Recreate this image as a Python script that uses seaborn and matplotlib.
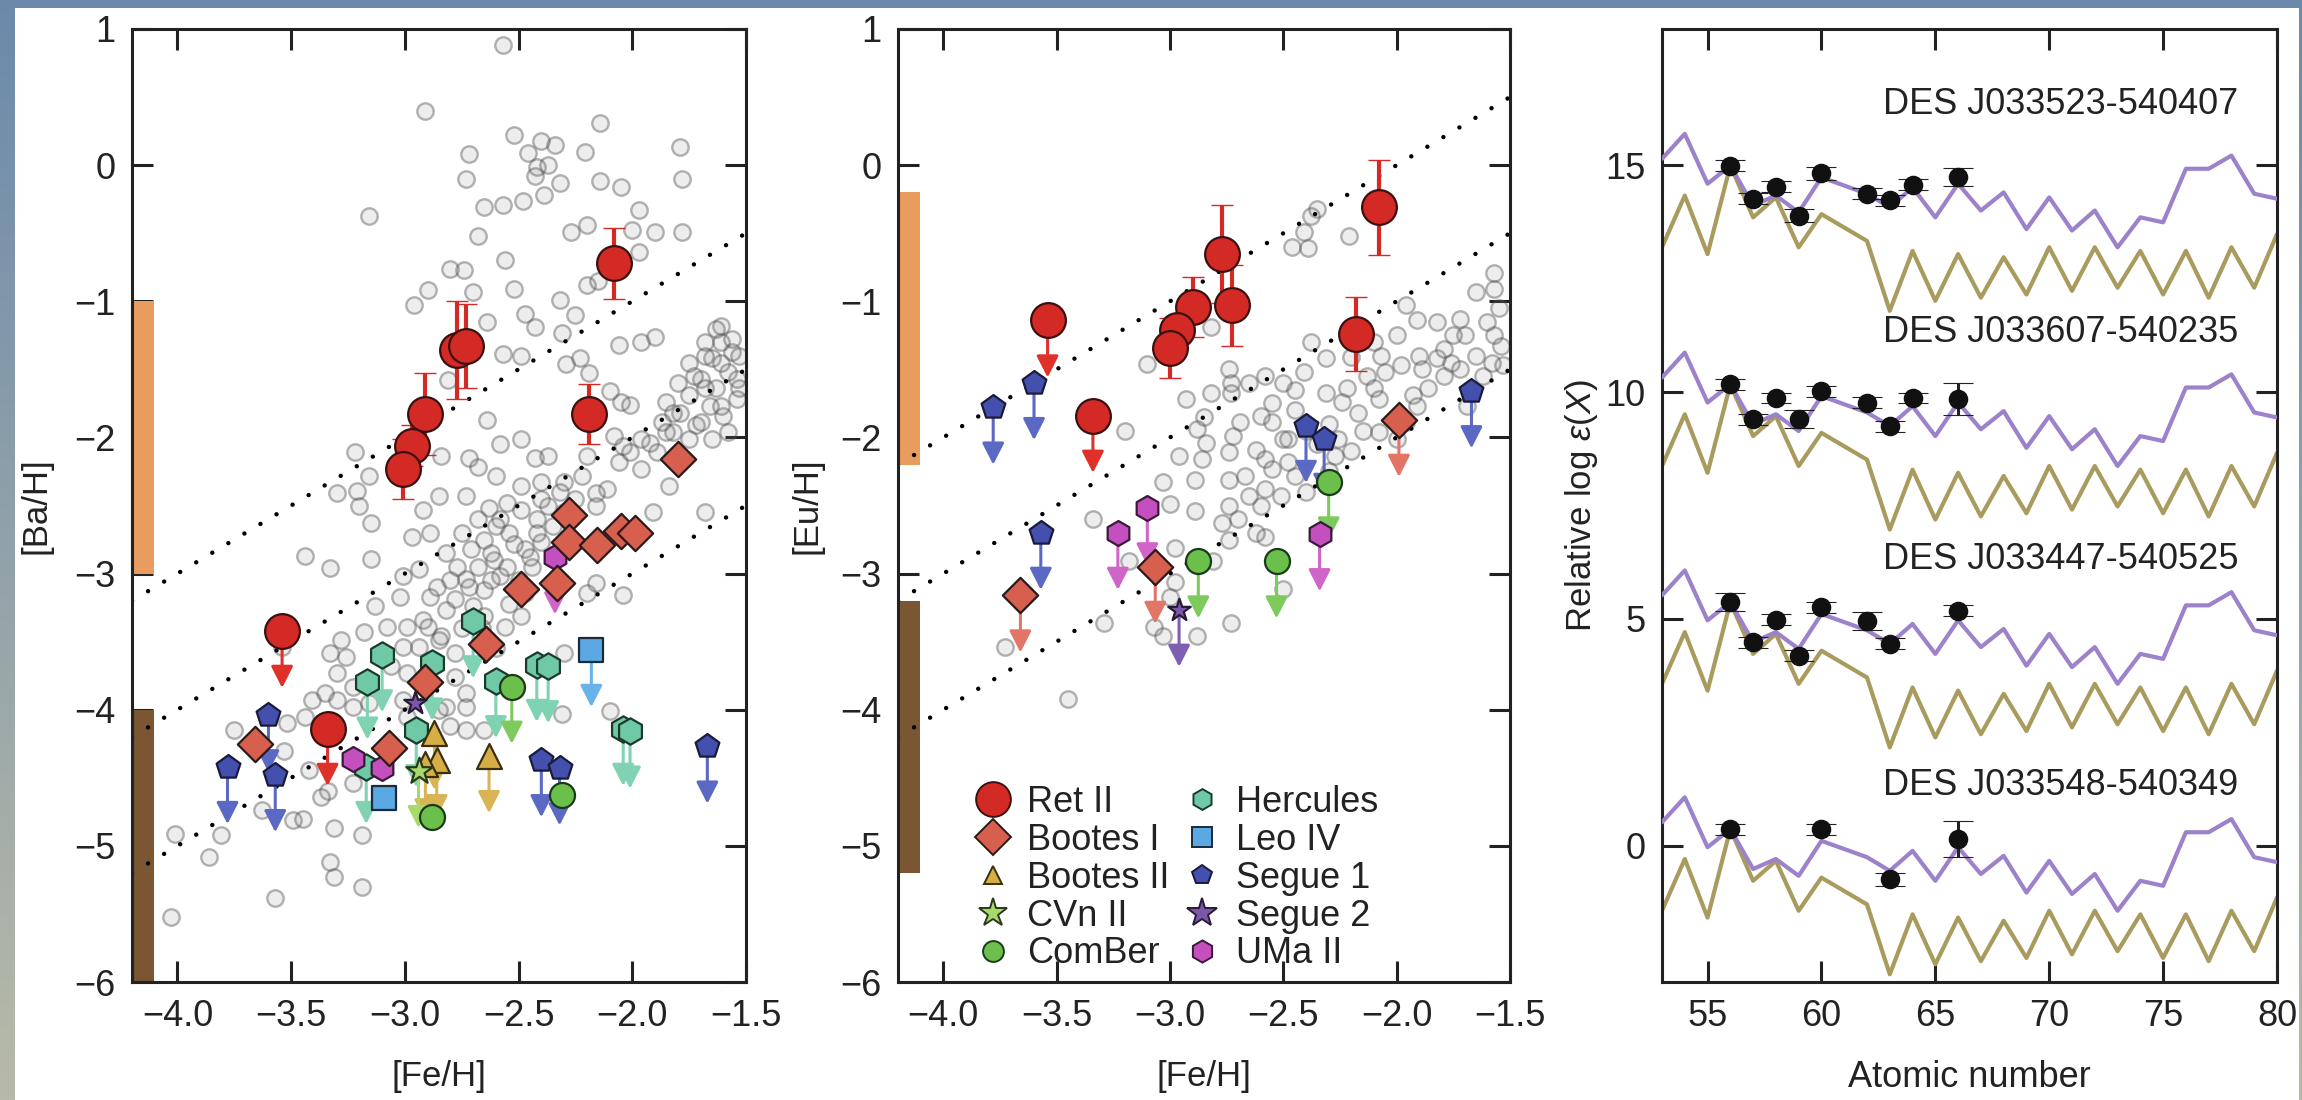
import numpy as np
import pandas as pd
import matplotlib
matplotlib.use("Agg")
import matplotlib.pyplot as plt
import seaborn as sns
from matplotlib.lines import Line2D
from matplotlib.ticker import FuncFormatter

# ======================= DATA =======================
# ---- Panel 1 : Milky Way halo stars [Ba/H] vs [Fe/H] ----
ba_halo_fe = [-2.57, -2.91, -3.16, -2.52, -2.40, -2.34, -2.14, -2.21, -1.79, -2.72, -2.46, -2.42, -2.37, -2.43,
              -2.73, -2.32, -2.14, -2.05, -1.78, -2.39, -2.48, -2.57, -2.65, -1.97, -2.68, -2.27, -2.20, -2.00,
              -1.90, -1.78, -1.97, -2.56, -2.80, -2.74, -2.20, -2.15, -2.90, -2.70, -2.52, -2.96, -2.32, -2.47,
              -2.25, -2.64, -2.43, -2.31, -2.06, -1.96, -1.90, -2.57, -2.49, -2.29, -2.23, -2.19, -2.81, -2.64,
              -2.58, -2.49, -2.43, -2.37, -2.10, -2.05, -2.01, -2.20, -2.72, -2.68, -2.60, -2.84, -3.22, -3.30,
              -3.21, -3.16, -2.85, -2.73, -2.49, -2.40, -2.11, -1.96, -1.84,
              -1.61, -1.68, -1.56, -1.65, -1.58, -1.70, -1.63, -1.54, -1.75, -1.66, -1.79, -1.60, -1.72, -1.82,
              -1.65, -1.87, -1.92, -1.54, -1.53, -1.61, -1.75, -1.80, -1.85, -2.04, -2.08, -2.30, -2.22, -2.16,
              -2.06, -2.01, -1.96, -1.89, -1.85, -1.75, -1.70, -1.82, -1.58, -1.61, -1.53, -1.68, -1.73, -1.61,
              -1.68, -1.56, -1.63,
              -3.20, -3.15, -2.92, -2.89, -2.97, -3.44, -3.33, -3.15, -3.01, -2.94, -2.82, -2.77, -2.71, -2.65,
              -2.58, -2.54, -2.49, -2.42, -2.37, -2.16, -1.91, -1.68, -2.68, -2.61, -2.47, -2.40, -2.73, -2.65,
              -2.58, -2.78, -2.70, -2.82, -2.89, -3.02, -3.13, -2.92, -2.99, -3.08, -3.18, -3.28, -3.33, -3.26,
              -3.30, -3.23, -3.35, -3.41, -3.30, -3.01, -3.06, -2.99, -2.94, -2.84, -2.78, -2.78, -2.73, -2.73,
              -2.82, -3.01, -2.99, -2.80, -2.73, -2.90, -2.85, -2.54, -2.49, -2.56, -2.65, -2.47, -2.44, -2.20,
              -2.04, -2.16, -2.30, -2.31, -2.10, -2.85, -3.16, -3.23, -3.44, -3.52, -3.75, -3.53, -3.42, -3.34,
              -3.23, -3.37, -3.49, -3.45, -3.31, -3.19, -3.63, -3.81, -4.01, -3.86, -3.33, -3.31, -3.19, -3.57,
              -4.03, -3.54, -2.65,
              -2.75, -2.62, -2.55, -2.45, -2.52, -2.60, -2.68, -2.72, -2.62, -2.50, -2.42, -2.35, -2.30, -2.25,
              -2.32, -2.40, -2.55, -2.63, -2.80, -2.86, -2.66, -2.60, -2.75]
ba_halo_val = [0.88, 0.40, -0.37, 0.22, 0.18, 0.15, 0.31, 0.10, 0.13, 0.08, 0.09, -0.01, 0.00, -0.08,
               -0.10, -0.13, -0.12, -0.16, -0.10, -0.22, -0.26, -0.29, -0.31, -0.33, -0.52, -0.49, -0.44, -0.48,
               -0.49, -0.49, -0.64, -0.70, -0.76, -0.77, -0.88, -0.85, -0.92, -0.93, -0.91, -1.03, -0.99, -1.09,
               -1.10, -1.15, -1.19, -1.23, -1.32, -1.30, -1.26, -1.39, -1.40, -1.46, -1.42, -1.53, -1.58, -1.87,
               -2.05, -2.01, -2.15, -2.14, -1.66, -1.74, -1.76, -2.14, -2.15, -2.22, -2.28, -2.14, -2.11, -2.41,
               -2.39, -2.28, -2.43, -2.43, -2.36, -2.33, -2.38, -2.23, -2.36,
               -1.18, -1.30, -1.37, -1.42, -1.52, -1.57, -1.64, -1.72, -1.69, -1.77, -1.82, -1.84, -1.91, -1.96,
               -2.01, -1.89, -2.04, -1.57, -1.40, -1.30, -1.45, -1.60, -1.74, -2.06, -1.99, -2.33, -2.28, -2.41,
               -2.18, -2.11, -2.01, -2.11, -1.96, -2.01, -1.89, -1.82, -1.96, -1.77, -1.64, -1.64, -1.55, -1.45,
               -1.40, -1.28, -1.20,
               -2.50, -2.63, -2.53, -2.70, -2.73, -2.87, -2.96, -2.89, -3.02, -2.97, -2.85, -2.95, -2.82, -2.75,
               -2.60, -2.70, -2.53, -2.60, -2.50, -2.50, -2.55, -2.55, -2.95, -2.90, -2.82, -2.77, -3.04, -3.12,
               -3.02, -3.19, -3.24, -3.27, -3.17, -3.17, -3.24, -3.34, -3.39, -3.39, -3.43, -3.49, -3.58, -3.61,
               -3.73, -3.83, -3.88, -3.93, -3.93, -3.54, -3.68, -3.73, -3.54, -3.46, -3.58, -3.76, -3.88, -3.98,
               -3.98, -3.93, -4.05, -4.12, -4.15, -3.39, -3.49, -3.22, -3.31, -3.39, -3.31, -3.14, -2.95, -3.14,
               -3.16, -3.07, -3.58, -4.03, -4.01, -4.00, -3.95, -3.98, -4.05, -4.10, -4.15, -4.30, -4.44, -4.60,
               -4.54, -4.64, -4.81, -4.80, -4.87, -4.92, -4.74, -4.92, -4.91, -5.08, -5.12, -5.23, -5.30, -5.38,
               -5.52, -3.54, -4.15,
               -2.70, -2.85, -2.95, -2.88, -2.78, -2.65, -2.60, -3.10, -3.05, -3.05, -2.70, -2.65, -2.55, -2.45,
               -2.40, -2.45, -2.48, -2.52, -3.05, -3.10, -3.40, -3.55, -3.40]

# ---- Panel 2 : Milky Way halo stars [Eu/H] vs [Fe/H] ----
eu_halo_fe = [-2.35, -2.38, -2.21, -2.41, -2.46, -2.39, -2.82, -3.10, -1.57, -1.65, -1.57, -1.72, -1.82, -1.96,
              -1.91, -1.57, -1.54, -1.70, -1.65, -1.76, -1.82, -1.90, -1.98, -2.05, -2.07, -2.13, -2.20, -2.31,
              -2.38, -2.41, -2.50, -2.58, -2.65, -2.74, -2.73, -2.73, -2.93, -2.82, -2.60, -2.69, -2.72, -2.88,
              -2.84, -2.50, -2.55, -2.31, -2.24, -2.17, -2.22, -2.10, -2.08, -1.93, -1.86, -1.89, -1.79, -1.72,
              -1.62, -1.58, -1.79, -1.69, -1.53, -3.20, -2.96, -2.86, -3.03, -2.89, -2.74, -2.74, -2.67, -2.62,
              -2.58, -2.55, -2.48, -2.45, -2.65, -2.58, -2.51, -2.27, -2.26, -2.48, -2.08, -1.96, -2.00, -1.91,
              -3.34, -3.00, -2.89, -2.74, -2.70, -2.77, -2.58, -2.62, -3.18, -2.98, -2.81, -2.74, -2.98, -3.00,
              -3.29, -3.07, -3.03, -2.88, -2.73, -2.50, -3.73, -3.45,
              -2.45, -2.40, -2.35, -2.30, -2.15, -2.20, -1.55, -1.60, -1.75, -2.10, -2.00, -2.55, -2.45, -2.85,
              -2.60, -2.40, -2.30]
eu_halo_val = [-0.32, -0.37, -0.52, -0.49, -0.60, -0.61, -1.19, -1.46, -0.79, -0.93, -0.91, -1.13, -1.15, -1.03,
               -1.14, -1.25, -1.33, -1.25, -1.40, -1.45, -1.42, -1.40, -1.47, -1.52, -1.40, -1.55, -1.41, -1.42,
               -1.30, -1.52, -1.60, -1.55, -1.60, -1.50, -1.60, -1.67, -1.72, -1.67, -1.84, -1.89, -1.99, -1.94,
               -2.04, -2.01, -1.89, -1.67, -1.74, -1.82, -1.64, -1.64, -1.72, -1.69, -1.64, -1.50, -1.55, -1.50,
               -1.55, -1.45, -1.35, -1.77, -1.47, -1.95, -2.14, -2.16, -2.33, -2.31, -2.11, -2.31, -2.28, -2.09,
               -2.16, -2.23, -2.18, -2.28, -2.43, -2.38, -2.43, -2.14, -2.01, -2.01, -1.96, -1.89, -2.01, -1.77,
               -2.60, -2.49, -2.54, -2.50, -2.60, -2.63, -2.73, -2.70, -2.91, -2.81, -2.91, -2.75, -3.06, -3.17,
               -3.36, -3.39, -3.46, -3.46, -3.36, -3.11, -3.54, -3.92,
               -1.80, -1.95, -2.05, -1.90, -1.95, -2.10, -1.05, -1.15, -1.25, -1.30, -1.25, -1.75, -1.65, -1.85,
               -2.50, -2.40, -2.25]

# ---- Ultra-faint dwarf stars, panel 1 ([Ba/H]) ; lim = 1 means upper limit ----
retii_ba_fe = [-2.08, -2.77, -2.73, -2.91, -2.97, -3.01, -2.19, -3.54, -3.34]
retii_ba = [-0.72, -1.36, -1.33, -1.83, -2.06, -2.23, -1.83, -3.42, -4.14]
retii_ba_err = [0.26, 0.36, 0.31, 0.30, 0.15, 0.22, 0.22, 0.0, 0.0]
retii_ba_lim = [0, 0, 0, 0, 0, 0, 0, 1, 1]
booi_ba_fe = [-1.80, -2.28, -2.05, -1.99, -2.28, -2.155, -2.49, -2.33, -2.645, -2.91, -3.07, -3.66]
booi_ba = [-2.16, -2.57, -2.69, -2.70, -2.77, -2.79, -3.11, -3.07, -3.52, -3.80, -4.28, -4.25]
booi_ba_lim = [0, 0, 0, 0, 0, 0, 0, 0, 0, 0, 0, 0]
booii_ba_fe = [-2.87, -2.86, -2.91, -2.63]
booii_ba = [-4.17, -4.37, -4.40, -4.34]
booii_ba_lim = [1, 1, 1, 1]
cvnii_ba_fe = [-2.94]
cvnii_ba = [-4.45]
cvnii_ba_lim = [1]
comber_ba_fe = [-2.53, -2.31, -2.88]
comber_ba = [-3.83, -4.63, -4.79]
comber_ba_lim = [1, 0, 0]
herc_ba_fe = [-2.70, -3.10, -2.88, -3.165, -2.60, -2.42, -2.37, -2.95, -3.17, -2.04, -2.01]
herc_ba = [-3.35, -3.60, -3.66, -3.80, -3.79, -3.67, -3.68, -4.15, -4.42, -4.14, -4.16]
herc_ba_lim = [1, 1, 1, 1, 1, 1, 1, 1, 1, 1, 1]
leoiv_ba_fe = [-2.18, -3.09]
leoiv_ba = [-3.56, -4.65]
leoiv_ba_lim = [1, 0]
seg1_ba_fe = [-3.60, -3.78, -3.57, -2.40, -2.32, -1.67]
seg1_ba = [-4.04, -4.42, -4.48, -4.37, -4.43, -4.27]
seg1_ba_lim = [1, 1, 1, 1, 1, 1]
seg2_ba_fe = [-2.955]
seg2_ba = [-3.95]
seg2_ba_lim = [0]
umaii_ba_fe = [-2.34, -3.23, -3.10]
umaii_ba = [-2.88, -4.36, -4.43]
umaii_ba_lim = [1, 0, 0]

# ---- Ultra-faint dwarf stars, panel 2 ([Eu/H]) ----
retii_eu_fe = [-2.08, -2.77, -2.725, -2.90, -2.97, -3.00, -2.18, -3.54, -3.34]
retii_eu = [-0.31, -0.65, -1.03, -1.04, -1.21, -1.34, -1.24, -1.14, -1.84]
retii_eu_err = [0.35, 0.36, 0.30, 0.22, 0.10, 0.22, 0.27, 0.0, 0.0]
retii_eu_lim = [0, 0, 0, 0, 0, 0, 0, 1, 1]
booi_eu_fe = [-1.99, -3.66, -3.065]
booi_eu = [-1.87, -3.16, -2.95]
booi_eu_lim = [1, 1, 1]
comber_eu_fe = [-2.30, -2.875, -2.53]
comber_eu = [-2.33, -2.91, -2.91]
comber_eu_lim = [1, 1, 1]
seg1_eu_fe = [-3.78, -3.60, -2.40, -2.32, -1.67, -3.57]
seg1_eu = [-1.78, -1.60, -1.915, -2.01, -1.66, -2.70]
seg1_eu_lim = [1, 1, 1, 1, 1, 1]
seg2_eu_fe = [-2.96]
seg2_eu = [-3.265]
seg2_eu_lim = [1]
umaii_eu_fe = [-3.23, -3.10, -2.34]
umaii_eu = [-2.70, -2.52, -2.71]
umaii_eu_lim = [1, 1, 1]

# ---- reference bands (orange: r-process enhanced, brown: r-poor) ----
ba_band_lo = [-3.0, -6.0]
ba_band_hi = [-1.0, -4.0]
eu_band_lo = [-2.2, -5.2]
eu_band_hi = [-0.2, -3.2]
# dotted lines [X/H] = [Fe/H] + offset
ba_line_offsets = [1.0, 0.0, -1.0]
eu_line_offsets = [2.0, 1.0, 0.0]

# ---- Panel 3 : scaled solar r- and s-process patterns (relative to Ba, Z=56) ----
Z_pattern = [53, 54, 55, 56, 57, 58, 59, 60, 62, 63, 64, 65, 66, 67, 68, 69, 70, 71, 72, 73, 74, 75, 76, 77, 78, 79, 80]
r_pattern = [0.15, 0.70, -0.40, 0.00, -0.88, -0.66, -1.03, -0.26, -0.62, -0.92, -0.48, -1.14, -0.40, -0.99,
             -0.59, -1.40, -0.70, -1.43, -0.99, -1.80, -1.14, -1.25, -0.07, -0.07, 0.22, -0.62, -0.73]
s_pattern = [-1.80, -0.66, -1.95, 0.00, -1.14, -0.70, -1.80, -1.07, -1.66, -3.20, -1.88, -2.98, -1.95, -2.91,
             -2.02, -2.84, -1.80, -2.76, -1.80, -2.69, -1.88, -2.84, -1.88, -2.91, -1.80, -2.69, -1.51]
star_names = ["DES J033523-540407", "DES J033607-540235", "DES J033447-540525", "DES J033548-540349"]
star_offsets = [14.99, 10.17, 5.37, 0.37]
star_label_y = [16.33, 11.31, 6.32, 1.32]
star1_Z = [56, 57, 58, 59, 60, 62, 63, 64, 66]
star1_val = [14.99, 14.26, 14.52, 13.89, 14.82, 14.37, 14.23, 14.57, 14.74]
star1_err = [0.12, 0.12, 0.12, 0.15, 0.15, 0.12, 0.12, 0.12, 0.2]
star2_Z = [56, 57, 58, 59, 60, 62, 63, 64, 66]
star2_val = [10.17, 9.40, 9.87, 9.40, 10.02, 9.76, 9.25, 9.87, 9.84]
star2_err = [0.12, 0.12, 0.12, 0.2, 0.12, 0.12, 0.12, 0.12, 0.35]
star3_Z = [56, 57, 58, 59, 60, 62, 63, 66]
star3_val = [5.37, 4.49, 4.98, 4.19, 5.26, 4.96, 4.45, 5.18]
star3_err = [0.2, 0.12, 0.12, 0.12, 0.12, 0.2, 0.12, 0.12]
star4_Z = [56, 60, 63, 66]
star4_val = [0.37, 0.37, -0.74, 0.15]
star4_err = [0.12, 0.12, 0.15, 0.4]

# ======================= STYLE =======================
sns.set_theme(style="white")
plt.rcParams["font.family"] = ["Liberation Sans", "DejaVu Sans"]
plt.rcParams["mathtext.fontset"] = "custom"
plt.rcParams["mathtext.rm"] = "Liberation Sans"
plt.rcParams["mathtext.it"] = "Liberation Sans:italic"
plt.rcParams["text.color"] = "#222222"
plt.rcParams["axes.labelcolor"] = "#222222"

STY = {
    "Ret II":    dict(marker="o", fc="#D42A25", ec="#3a1010", size=25, ac="#E0302A", lms=25),
    "Bootes I":  dict(marker="D", fc="#D6604D", ec="#2a1a1a", size=18, ac="#E27565", lms=18),
    "Bootes II": dict(marker="^", fc="#D6AE45", ec="#3a3010", size=18, ac="#D8B455", lms=13),
    "CVn II":    dict(marker="*", fc="#A6DB6B", ec="#2a3a1a", size=20, ac="#A6DB6B", lms=21),
    "ComBer":    dict(marker="o", fc="#6BC04C", ec="#1a3a1a", size=18, ac="#7DCB5C", lms=15),
    "Hercules":  dict(marker="h", fc="#6FC9A6", ec="#1a3a2a", size=19, ac="#7FD3B3", lms=15),
    "Leo IV":    dict(marker="s", fc="#5BA8E3", ec="#1a2a3a", size=17, ac="#6AB2EA", lms=14),
    "Segue 1":   dict(marker="p", fc="#4350AE", ec="#1a1a3a", size=18, ac="#5B68C4", lms=15),
    "Segue 2":   dict(marker="*", fc="#7A58A8", ec="#2a1a3a", size=17, ac="#7E5FB2", lms=22),
    "UMa II":    dict(marker="h", fc="#C44FBE", ec="#3a1a3a", size=18, ac="#D064C8", lms=16),
}
ARROW_LEN = 0.42
TXT = "#222222"
FS_TICK = 26
FS_LAB = 25


def minus_fmt(fmt):
    return FuncFormatter(lambda v, p: (fmt % v).replace("-", "\u2212"))


def style_axes(ax):
    ax.tick_params(axis="both", which="major", direction="in", length=15, width=2.2,
                   top=True, right=True, bottom=True, left=True, labelsize=FS_TICK, pad=12,
                   colors="#222222", labelcolor=TXT)
    for sp in ax.spines.values():
        sp.set_linewidth(2.2)
        sp.set_color("#222222")
        sp.set_visible(True)


def plot_group(ax, name, fe, val, lim):
    st = STY[name]
    for x, y, l in zip(fe, val, lim):
        if l:
            ax.annotate("", xy=(x, y - ARROW_LEN), xytext=(x, y),
                        arrowprops=dict(arrowstyle="-|>,head_length=0.55,head_width=0.28",
                                        color=st["ac"], lw=2.2, shrinkA=0, shrinkB=0,
                                        mutation_scale=24), zorder=3)
    df = pd.DataFrame({"fe": fe, "val": val})
    sns.scatterplot(data=df, x="fe", y="val", ax=ax, marker=st["marker"], s=st["size"] ** 2,
                    color=st["fc"], edgecolor=st["ec"], linewidth=1.6, zorder=5, legend=False)


def plot_halo(ax, fe, val):
    df = pd.DataFrame({"fe": fe, "val": val})
    sns.scatterplot(data=df, x="fe", y="val", ax=ax, s=140, color="gray",
                    facecolor=(0.5, 0.5, 0.5, 0.14), edgecolor=(0.3, 0.3, 0.3, 0.42),
                    linewidth=1.7, zorder=1, legend=False)


def plot_lines_bands(ax, offsets, lo, hi):
    xx = np.array([-4.2, -1.5])
    for off in offsets:
        ax.plot(xx, xx + off, color="black", lw=3.2, linestyle=(0, (0.01, 4.2)),
                dash_capstyle="round", zorder=2)
    colors = ["#E89C5E", "#7A5632"]
    for l, h, c in zip(lo, hi, colors):
        ax.bar(-4.2, h - l, bottom=l, width=0.095, align="edge", color=c, linewidth=0, zorder=1.5)


# ======================= FIGURE =======================
fig = plt.figure(figsize=(23.02, 11.0), dpi=100)
fig.patch.set_facecolor("white")

# decorative frame (slide background)
grad = np.linspace(0, 1, 256).reshape(-1, 1)
c_top = np.array([0.42, 0.54, 0.67])
c_bot = np.array([0.72, 0.73, 0.66])
img = c_top[None, None, :] * (1 - grad[:, :, None]) + c_bot[None, None, :] * grad[:, :, None]
axl = fig.add_axes([0, 0, 15 / 2302, 1])
axl.imshow(img, aspect="auto", extent=[0, 1, 0, 1])
axl.axis("off")
axr = fig.add_axes([2299 / 2302, 0, 3 / 2302, 1])
axr.imshow(img, aspect="auto", extent=[0, 1, 0, 1])
axr.axis("off")
axt = fig.add_axes([0, 1 - 8 / 1100, 1, 8 / 1100])
axt.set_facecolor((0.42, 0.54, 0.67))
axt.set_xticks([]); axt.set_yticks([])
for sp in axt.spines.values():
    sp.set_visible(False)

bottom = 1 - 982 / 1100
height = (982 - 29) / 1100
ax1 = fig.add_axes([132 / 2302, bottom, 614 / 2302, height])
ax2 = fig.add_axes([898 / 2302, bottom, 612 / 2302, height])
ax3 = fig.add_axes([1662 / 2302, bottom, 615 / 2302, height])

# ---- Panel 1 ----
plot_halo(ax1, ba_halo_fe, ba_halo_val)
plot_lines_bands(ax1, ba_line_offsets, ba_band_lo, ba_band_hi)
ax1.errorbar(retii_ba_fe, retii_ba, yerr=retii_ba_err, fmt="none", ecolor="#D42A25",
             elinewidth=3, capsize=8, capthick=1, zorder=4)
plot_group(ax1, "Hercules", herc_ba_fe, herc_ba, herc_ba_lim)
plot_group(ax1, "Segue 1", seg1_ba_fe, seg1_ba, seg1_ba_lim)
plot_group(ax1, "Bootes II", booii_ba_fe, booii_ba, booii_ba_lim)
plot_group(ax1, "CVn II", cvnii_ba_fe, cvnii_ba, cvnii_ba_lim)
plot_group(ax1, "ComBer", comber_ba_fe, comber_ba, comber_ba_lim)
plot_group(ax1, "Leo IV", leoiv_ba_fe, leoiv_ba, leoiv_ba_lim)
plot_group(ax1, "UMa II", umaii_ba_fe, umaii_ba, umaii_ba_lim)
plot_group(ax1, "Segue 2", seg2_ba_fe, seg2_ba, seg2_ba_lim)
plot_group(ax1, "Bootes I", booi_ba_fe, booi_ba, booi_ba_lim)
plot_group(ax1, "Ret II", retii_ba_fe, retii_ba, retii_ba_lim)

# ---- Panel 2 ----
plot_halo(ax2, eu_halo_fe, eu_halo_val)
plot_lines_bands(ax2, eu_line_offsets, eu_band_lo, eu_band_hi)
ax2.errorbar(retii_eu_fe, retii_eu, yerr=retii_eu_err, fmt="none", ecolor="#D42A25",
             elinewidth=3, capsize=8, capthick=1, zorder=4)
plot_group(ax2, "Segue 1", seg1_eu_fe, seg1_eu, seg1_eu_lim)
plot_group(ax2, "ComBer", comber_eu_fe, comber_eu, comber_eu_lim)
plot_group(ax2, "UMa II", umaii_eu_fe, umaii_eu, umaii_eu_lim)
plot_group(ax2, "Segue 2", seg2_eu_fe, seg2_eu, seg2_eu_lim)
plot_group(ax2, "Bootes I", booi_eu_fe, booi_eu, booi_eu_lim)
plot_group(ax2, "Ret II", retii_eu_fe, retii_eu, retii_eu_lim)

for ax, ylab, lx in [(ax1, "[Ba/H]", -0.13), (ax2, "[Eu/H]", -0.122)]:
    ax.set_xlim(-4.2, -1.5)
    ax.set_ylim(-6, 1)
    ax.set_xticks([-4.0, -3.5, -3.0, -2.5, -2.0, -1.5])
    ax.set_yticks([-6, -5, -4, -3, -2, -1, 0, 1])
    ax.xaxis.set_major_formatter(minus_fmt("%.1f"))
    ax.yaxis.set_major_formatter(minus_fmt("%d"))
    ax.set_xlabel("[Fe/H]", fontsize=FS_LAB, color=TXT)
    ax.set_ylabel(ylab, fontsize=FS_LAB, color=TXT)
    ax.xaxis.set_label_coords(0.5, -0.082)
    ax.yaxis.set_label_coords(lx, 0.5)
    style_axes(ax)

# legend
order = ["Ret II", "Bootes I", "Bootes II", "CVn II", "ComBer",
         "Hercules", "Leo IV", "Segue 1", "Segue 2", "UMa II"]
handles = [Line2D([], [], ls="", marker=STY[n]["marker"], markersize=STY[n]["lms"],
                  markerfacecolor=STY[n]["fc"], markeredgecolor=STY[n]["ec"], markeredgewidth=1.4)
           for n in order]
ax2.legend(handles, order, ncol=2, loc="upper left", bbox_to_anchor=(0.093, 0.222),
           frameon=False, fontsize=26, handletextpad=0.3, columnspacing=0.25,
           labelspacing=0.08, handlelength=1.3, borderaxespad=0)

# ---- Panel 3 ----
stars = [(star1_Z, star1_val, star1_err), (star2_Z, star2_val, star2_err),
         (star3_Z, star3_val, star3_err), (star4_Z, star4_val, star4_err)]
for (Zs, vals, errs), off, name, ly in zip(stars, star_offsets, star_names, star_label_y):
    pat = pd.DataFrame({"Z": Z_pattern,
                        "r": np.array(r_pattern) + off,
                        "s": np.array(s_pattern) + off})
    sns.lineplot(data=pat, x="Z", y="s", ax=ax3, color="#A99B5E", lw=3, estimator=None,
                 sort=False, zorder=2)
    sns.lineplot(data=pat, x="Z", y="r", ax=ax3, color="#9B82CB", lw=3, estimator=None,
                 sort=False, zorder=3)
    ax3.errorbar(Zs, vals, yerr=errs, fmt="none", ecolor="#222222", elinewidth=2.2,
                 capsize=11, capthick=0.8, zorder=4)
    sdf = pd.DataFrame({"Z": Zs, "v": vals})
    sns.scatterplot(data=sdf, x="Z", y="v", ax=ax3, s=170, color="#111111",
                    edgecolor="#111111", zorder=5, legend=False)
    ax3.text(78.3, ly, name, ha="right", va="center", fontsize=26, color=TXT)

ax3.set_xlim(53, 80)
ax3.set_ylim(-3, 18)
ax3.set_xticks([55, 60, 65, 70, 75, 80])
ax3.set_yticks([0, 5, 10, 15])
ax3.set_xlabel("Atomic number", fontsize=FS_LAB + 1, color=TXT)
ax3.set_ylabel(r"Relative log $\varepsilon$($X$)", fontsize=FS_LAB, color=TXT)
ax3.xaxis.set_label_coords(0.5, -0.082)
ax3.yaxis.set_label_coords(-0.10, 0.5)
style_axes(ax3)

fig.savefig("out.png", dpi=100, facecolor=fig.get_facecolor())
